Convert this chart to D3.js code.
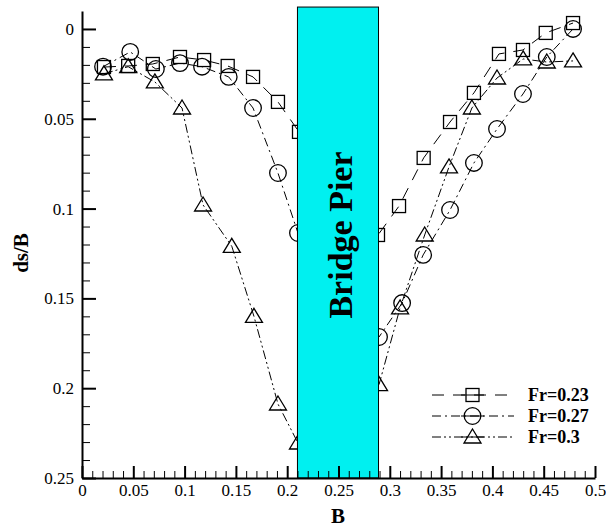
<!DOCTYPE html>
<html>
<head>
<meta charset="utf-8">
<script src="https://cdn.jsdelivr.net/npm/d3@7"></script>
<style>
  body { margin: 0; background: #fff; }
  svg, svg text { font-family: "Liberation Serif", "Times New Roman", serif; }
</style>
</head>
<body>
<div id="chart"></div>
<script>
// data
const xFr023 = [0.0214, 0.045, 0.069, 0.0955, 0.119, 0.142, 0.1667, 0.191, 0.2115,
                0.2885, 0.309, 0.333, 0.3587, 0.382, 0.4064, 0.4298, 0.452, 0.4786];
const yFr023 = [0.0212, 0.0206, 0.0195, 0.0156, 0.0173, 0.0206, 0.0267, 0.0406, 0.0573,
                0.1147, 0.0986, 0.0718, 0.0518, 0.0356, 0.0139, 0.0117, 0.0022, -0.0033];

const xFr027 = [0.0205, 0.047, 0.072, 0.0955, 0.117, 0.143, 0.1667, 0.191, 0.2105,
                0.2895, 0.312, 0.3325, 0.3587, 0.382, 0.4045, 0.4298, 0.453, 0.4786];
const yFr027 = [0.021, 0.0128, 0.0223, 0.019, 0.021, 0.0267, 0.044, 0.0802, 0.1136,
                0.1715, 0.1526, 0.1258, 0.1008, 0.0746, 0.0557, 0.0362, 0.0156, 0.0];

const xFr03 = [0.0214, 0.045, 0.071, 0.0975, 0.118, 0.146, 0.1676, 0.191, 0.2105,
               0.2895, 0.31, 0.334, 0.3577, 0.380, 0.4045, 0.430, 0.453, 0.4786];
const yFr03 = [0.025, 0.021, 0.0295, 0.044, 0.098, 0.121, 0.160, 0.2088, 0.2305,
               0.198, 0.1553, 0.1147, 0.0768, 0.044, 0.0273, 0.0167, 0.0184, 0.0178];

const seriesNames = ["Fr=0.23", "Fr=0.27", "Fr=0.3"];
const pier = [0.21, 0.289];

const yMajor = [0, 0.05, 0.1, 0.15, 0.2, 0.25];
const yLabels = ["0", "0.05", "0.1", "0.15", "0.2", "0.25"];
const xMajor = [0, 0.05, 0.1, 0.15, 0.2, 0.25, 0.3, 0.35, 0.4, 0.45, 0.5];
const xLabels = ["0", "0.05", "0.1", "0.15", "0.2", "0.25", "0.3", "0.35", "0.4", "0.45", "0.5"];

const W = 606, H = 528;
const FONT = "'Liberation Serif', 'Times New Roman', serif";

const svg = d3.select("#chart").append("svg")
  .attr("width", W).attr("height", H);

const x = d3.scaleLinear().domain([0, 0.5]).range([82, 595]);
const y = d3.scaleLinear().domain([-0.01, 0.25]).range([11, 478]);

const series = [
  { name: seriesNames[0], xs: xFr023, ys: yFr023, dash: "12,9", shape: "square" },
  { name: seriesNames[1], xs: xFr027, ys: yFr027, dash: "9,4,2,4", shape: "circle" },
  { name: seriesNames[2], xs: xFr03, ys: yFr03, dash: "9,3,2,3,2,3", shape: "triangle" }
];

function drawMarker(g, shape, cx, cy) {
  if (shape === "square") {
    g.append("rect")
      .attr("x", cx - 6.5).attr("y", cy - 6.5)
      .attr("width", 13).attr("height", 13)
      .attr("fill", "none").attr("stroke", "#000").attr("stroke-width", 1.3);
  } else if (shape === "circle") {
    g.append("circle")
      .attr("cx", cx).attr("cy", cy).attr("r", 8.3)
      .attr("fill", "none").attr("stroke", "#000").attr("stroke-width", 1.3);
  } else {
    g.append("path")
      .attr("d", `M${cx},${cy - 8}L${cx + 8.5},${cy + 6}L${cx - 8.5},${cy + 6}Z`)
      .attr("fill", "none").attr("stroke", "#000").attr("stroke-width", 1.3);
  }
}

// lines + markers
const line = d3.line();
series.forEach(s => {
  const pts = s.xs.map((v, i) => [x(v), y(s.ys[i])]);
  svg.append("path")
    .attr("d", line(pts))
    .attr("fill", "none")
    .attr("stroke", "#000")
    .attr("stroke-width", 1)
    .attr("stroke-dasharray", s.dash);
  const g = svg.append("g");
  pts.forEach(p => drawMarker(g, s.shape, p[0], p[1]));
});

// bridge pier on top
svg.append("rect")
  .attr("x", x(pier[0]))
  .attr("y", y(-0.0122))
  .attr("width", x(pier[1]) - x(pier[0]))
  .attr("height", y(0.25) - y(-0.0122))
  .attr("fill", "#00f0f0")
  .attr("stroke", "#000")
  .attr("stroke-width", 1);

svg.append("text")
  .attr("transform", `translate(352,235) rotate(-90)`)
  .attr("text-anchor", "middle")
  .attr("font-family", FONT)
  .style("font-size", "34px")
  .style("font-weight", "bold")
  .text("Bridge Pier");

// axes
function notMajor(v) { return Math.round(v * 100) % 5 !== 0; }
const yMinor = d3.range(1, 25).map(i => i / 100).filter(notMajor);
const xMinor = d3.range(1, 50).map(i => i / 100).filter(notMajor);

svg.append("g")
  .attr("transform", `translate(${x(0)},0)`)
  .call(d3.axisLeft(y).tickValues(yMinor).tickSize(-8).tickFormat(""))
  .call(g => g.select(".domain").remove())
  .call(g => g.selectAll("line").attr("stroke-width", 1));

const yAx = svg.append("g")
  .attr("transform", `translate(${x(0)},0)`)
  .call(d3.axisLeft(y).tickValues(yMajor).tickSize(-14).tickSizeOuter(0)
    .tickFormat((d, i) => yLabels[i]).tickPadding(8))
  .attr("font-family", FONT);
yAx.select(".domain").attr("stroke-width", 2);
yAx.selectAll("line").attr("stroke-width", 2);
yAx.selectAll("text").style("font-size", "17px").attr("fill", "#000");

svg.append("g")
  .attr("transform", `translate(0,${y(0.25)})`)
  .call(d3.axisBottom(x).tickValues(xMinor).tickSize(-7).tickFormat(""))
  .call(g => g.select(".domain").remove())
  .call(g => g.selectAll("line").attr("stroke-width", 1));

const xAx = svg.append("g")
  .attr("transform", `translate(0,${y(0.25)})`)
  .call(d3.axisBottom(x).tickValues(xMajor).tickSize(-12).tickSizeOuter(0)
    .tickFormat((d, i) => xLabels[i]).tickPadding(6))
  .attr("font-family", FONT);
xAx.select(".domain").attr("stroke-width", 2);
xAx.selectAll("line").attr("stroke-width", 2);
xAx.selectAll("text").style("font-size", "17px").attr("fill", "#000");

// axis titles
svg.append("text")
  .attr("x", 338).attr("y", 523)
  .attr("text-anchor", "middle")
  .attr("font-family", FONT)
  .style("font-size", "21px").style("font-weight", "bold")
  .text("B");

svg.append("text")
  .attr("transform", "translate(28,253) rotate(-90)")
  .attr("text-anchor", "middle")
  .attr("font-family", FONT)
  .style("font-size", "21px").style("font-weight", "bold")
  .text("ds/B");

// legend
const legY = [395, 416, 437];
series.forEach((s, i) => {
  const g = svg.append("g");
  g.append("line")
    .attr("x1", 432).attr("x2", 514)
    .attr("y1", legY[i]).attr("y2", legY[i])
    .attr("stroke", "#000").attr("stroke-width", 1)
    .attr("stroke-dasharray", s.dash);
  g.append("line")
    .attr("x1", 461).attr("x2", 484)
    .attr("y1", legY[i]).attr("y2", legY[i])
    .attr("stroke", "#000").attr("stroke-width", 1);
  drawMarker(g, s.shape, 472.5, legY[i]);
  g.append("text")
    .attr("x", 528).attr("y", legY[i] + 6)
    .attr("font-family", FONT)
    .style("font-size", "18px").style("font-weight", "bold")
    .text(s.name);
});
</script>
</body>
</html>
